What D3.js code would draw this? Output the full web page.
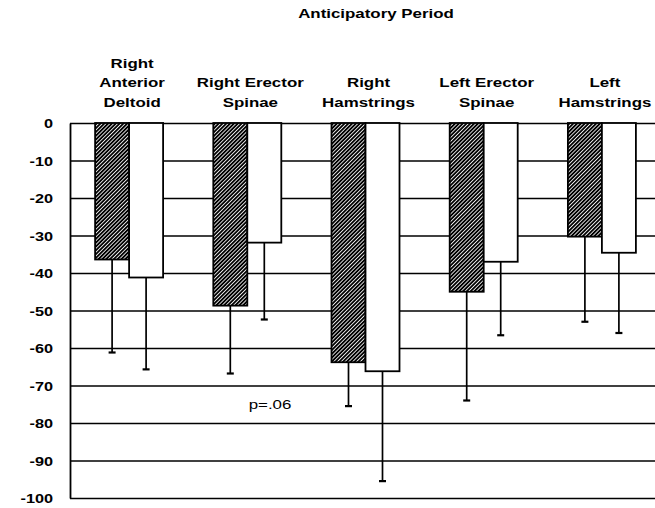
<!DOCTYPE html>
<html>
<head>
<meta charset="utf-8">
<script src="https://cdn.jsdelivr.net/npm/d3@7"></script>
<style>
  body { margin: 0; background: #fff; }
  text { font-family: "Liberation Sans", Arial, sans-serif; fill: #000; }
</style>
</head>
<body>
<script>
// values (percent change, one-sided SD below the bar)
var categories = [
  ["Right", "Anterior", "Deltoid"],
  ["Right Erector", "Spinae"],
  ["Right", "Hamstrings"],
  ["Left Erector", "Spinae"],
  ["Left", "Hamstrings"]
];
var hatchedMeans = [-36.4, -48.7, -63.8, -45.0, -30.3];
var hatchedSD    = [24.8, 18.1, 11.7, 29.0, 22.7];
var openMeans    = [-41.2, -31.9, -66.2, -37.0, -34.6];
var openSD       = [24.5, 20.5, 29.3, 19.6, 21.4];
var yTicks = [0, -10, -20, -30, -40, -50, -60, -70, -80, -90, -100];

var width = 655, height = 508;
var stretch = 1.3;  // scan text is wider than tall

var svg = d3.select("body").append("svg")
  .attr("width", width)
  .attr("height", height);

// hatch pattern for the first series
svg.append("defs").append("pattern")
  .attr("id", "hatch")
  .attr("patternUnits", "userSpaceOnUse")
  .attr("width", 2.7)
  .attr("height", 2.7)
  .attr("patternTransform", "rotate(45)")
  .call(function (p) {
    p.append("rect").attr("width", 2.7).attr("height", 2.7).attr("fill", "#fff");
    p.append("line").attr("x1", 0.9).attr("y1", 0).attr("x2", 0.9).attr("y2", 2.7)
      .attr("stroke", "#000").attr("stroke-width", 1.95);
  });

var x0 = d3.scaleBand()
  .domain(d3.range(categories.length))
  .range([70, 661]);

var x1 = d3.scaleBand()
  .domain(["hatched", "open"])
  .range([x0.bandwidth() / 2 - 34, x0.bandwidth() / 2 + 34]);

var y = d3.scaleLinear()
  .domain([-100, 0])
  .range([498, 123]);

// title
svg.append("text")
  .attr("transform", "translate(376,18) scale(" + stretch + ",1)")
  .attr("text-anchor", "middle")
  .style("font-size", "13px")
  .style("font-weight", "bold")
  .text("Anticipatory Period");

// axis with full-width gridlines
var axis = svg.append("g")
  .attr("transform", "translate(70,0)")
  .call(d3.axisLeft(y)
    .tickValues(yTicks)
    .tickSize(-585)
    .tickSizeOuter(0)
    .tickFormat(function (d) { return String(d); }));

axis.selectAll("line").attr("stroke", "#000").attr("stroke-width", 1.6);
axis.select(".domain").attr("stroke", "#000").attr("stroke-width", 1.8);
axis.selectAll("text")
  .attr("x", 0)
  .attr("dy", "0.35em")
  .attr("text-anchor", "end")
  .attr("transform", "translate(-17,0) scale(1.25,1)")
  .style("font-family", "'Liberation Sans', Arial, sans-serif")
  .style("font-size", "13px")
  .style("font-weight", "bold");

// category labels
var labels = svg.append("g").selectAll("text")
  .data(categories)
  .join("text")
  .attr("text-anchor", "middle")
  .style("font-size", "13px")
  .style("font-weight", "bold")
  .attr("transform", function (d, i) {
    return "translate(" + (x0(i) + x0.bandwidth() / 2 + 3) + ",0) scale(" + stretch + ",1)";
  });

labels.selectAll("tspan")
  .data(function (d) { return d; })
  .join("tspan")
  .attr("x", 0)
  .attr("y", function (d, j, nodes) { return 107 - (nodes.length - 1 - j) * 19.5; })
  .text(function (d) { return d; });

// bars
var rows = categories.map(function (c, i) {
  return [
    { i: i, key: "hatched", mean: hatchedMeans[i], sd: hatchedSD[i] },
    { i: i, key: "open", mean: openMeans[i], sd: openSD[i] }
  ];
});

var groups = svg.append("g").selectAll("g")
  .data(rows)
  .join("g")
  .attr("transform", function (d, i) { return "translate(" + x0(i) + ",0)"; });

// error bars (downward only)
groups.selectAll("line.err")
  .data(function (d) { return d; })
  .join("line")
  .attr("class", "err")
  .attr("x1", function (d) { return x1(d.key) + x1.bandwidth() / 2; })
  .attr("x2", function (d) { return x1(d.key) + x1.bandwidth() / 2; })
  .attr("y1", function (d) { return y(d.mean); })
  .attr("y2", function (d) { return y(d.mean - d.sd); })
  .attr("stroke", "#000")
  .attr("stroke-width", 1.7);

groups.selectAll("line.cap")
  .data(function (d) { return d; })
  .join("line")
  .attr("class", "cap")
  .attr("x1", function (d) { return x1(d.key) + x1.bandwidth() / 2 - 3.5; })
  .attr("x2", function (d) { return x1(d.key) + x1.bandwidth() / 2 + 3.5; })
  .attr("y1", function (d) { return y(d.mean - d.sd); })
  .attr("y2", function (d) { return y(d.mean - d.sd); })
  .attr("stroke", "#000")
  .attr("stroke-width", 2.2);

groups.selectAll("rect")
  .data(function (d) { return d; })
  .join("rect")
  .attr("x", function (d) { return x1(d.key); })
  .attr("width", x1.bandwidth())
  .attr("y", y(0))
  .attr("height", function (d) { return y(d.mean) - y(0); })
  .attr("fill", function (d) { return d.key === "hatched" ? "url(#hatch)" : "#fff"; })
  .attr("stroke", "#000")
  .attr("stroke-width", 1.8);

// significance note
svg.append("text")
  .attr("transform", "translate(270,409) scale(" + stretch + ",1)")
  .attr("text-anchor", "middle")
  .style("font-size", "13px")
  .text("p=.06");
</script>
</body>
</html>
